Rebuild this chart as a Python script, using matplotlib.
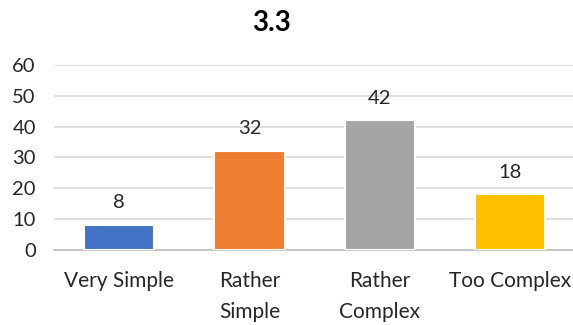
import matplotlib.pyplot as plt

categories = ["Very Simple", "Rather\nSimple", "Rather\nComplex", "Too Complex"]
values = [8, 32, 42, 18]
colors = ["#4472C4", "#ED7D31", "#A5A5A5", "#FFC000"]
yticks = [0, 10, 20, 30, 40, 50, 60]

plt.rcParams['font.family'] = ['Lato', 'DejaVu Sans']

fig = plt.figure(figsize=(5.73, 3.25), dpi=100)
ax = fig.add_axes([0.094, 0.231, 0.91, 0.569])

x = range(len(categories))
bars = ax.bar(x, values, width=0.54, color=colors, edgecolor="white", linewidth=1.5, zorder=3)

for rect, v in zip(bars, values):
    ax.annotate(str(v), (rect.get_x() + rect.get_width() / 2, v),
                xytext=(0, 10), textcoords="offset points",
                ha="center", va="bottom", fontsize=14.5, color="#262626")

ax.set_xlim(-0.5, 3.5)
ax.set_ylim(0, 60)
ax.set_yticks(yticks)
ax.set_xticks(list(x))
ax.set_xticklabels(categories, fontsize=15, color="#262626", linespacing=1.7, va="top")
ax.tick_params(axis="y", labelsize=14.5, colors="#262626", length=0, pad=13)
ax.tick_params(axis="x", length=0, pad=15)
ax.yaxis.grid(True, color="#d9d9d9", linewidth=1.2, zorder=0)
for side in ["top", "right", "left"]:
    ax.spines[side].set_visible(False)
ax.spines["bottom"].set_color("#bfbfbf")
ax.spines["bottom"].set_linewidth(1.2)

fig.text(0.473, 0.93, "3.3", ha="center", va="center", fontsize=20, fontweight="bold", color="black")

fig.savefig("out.png", dpi=100)
